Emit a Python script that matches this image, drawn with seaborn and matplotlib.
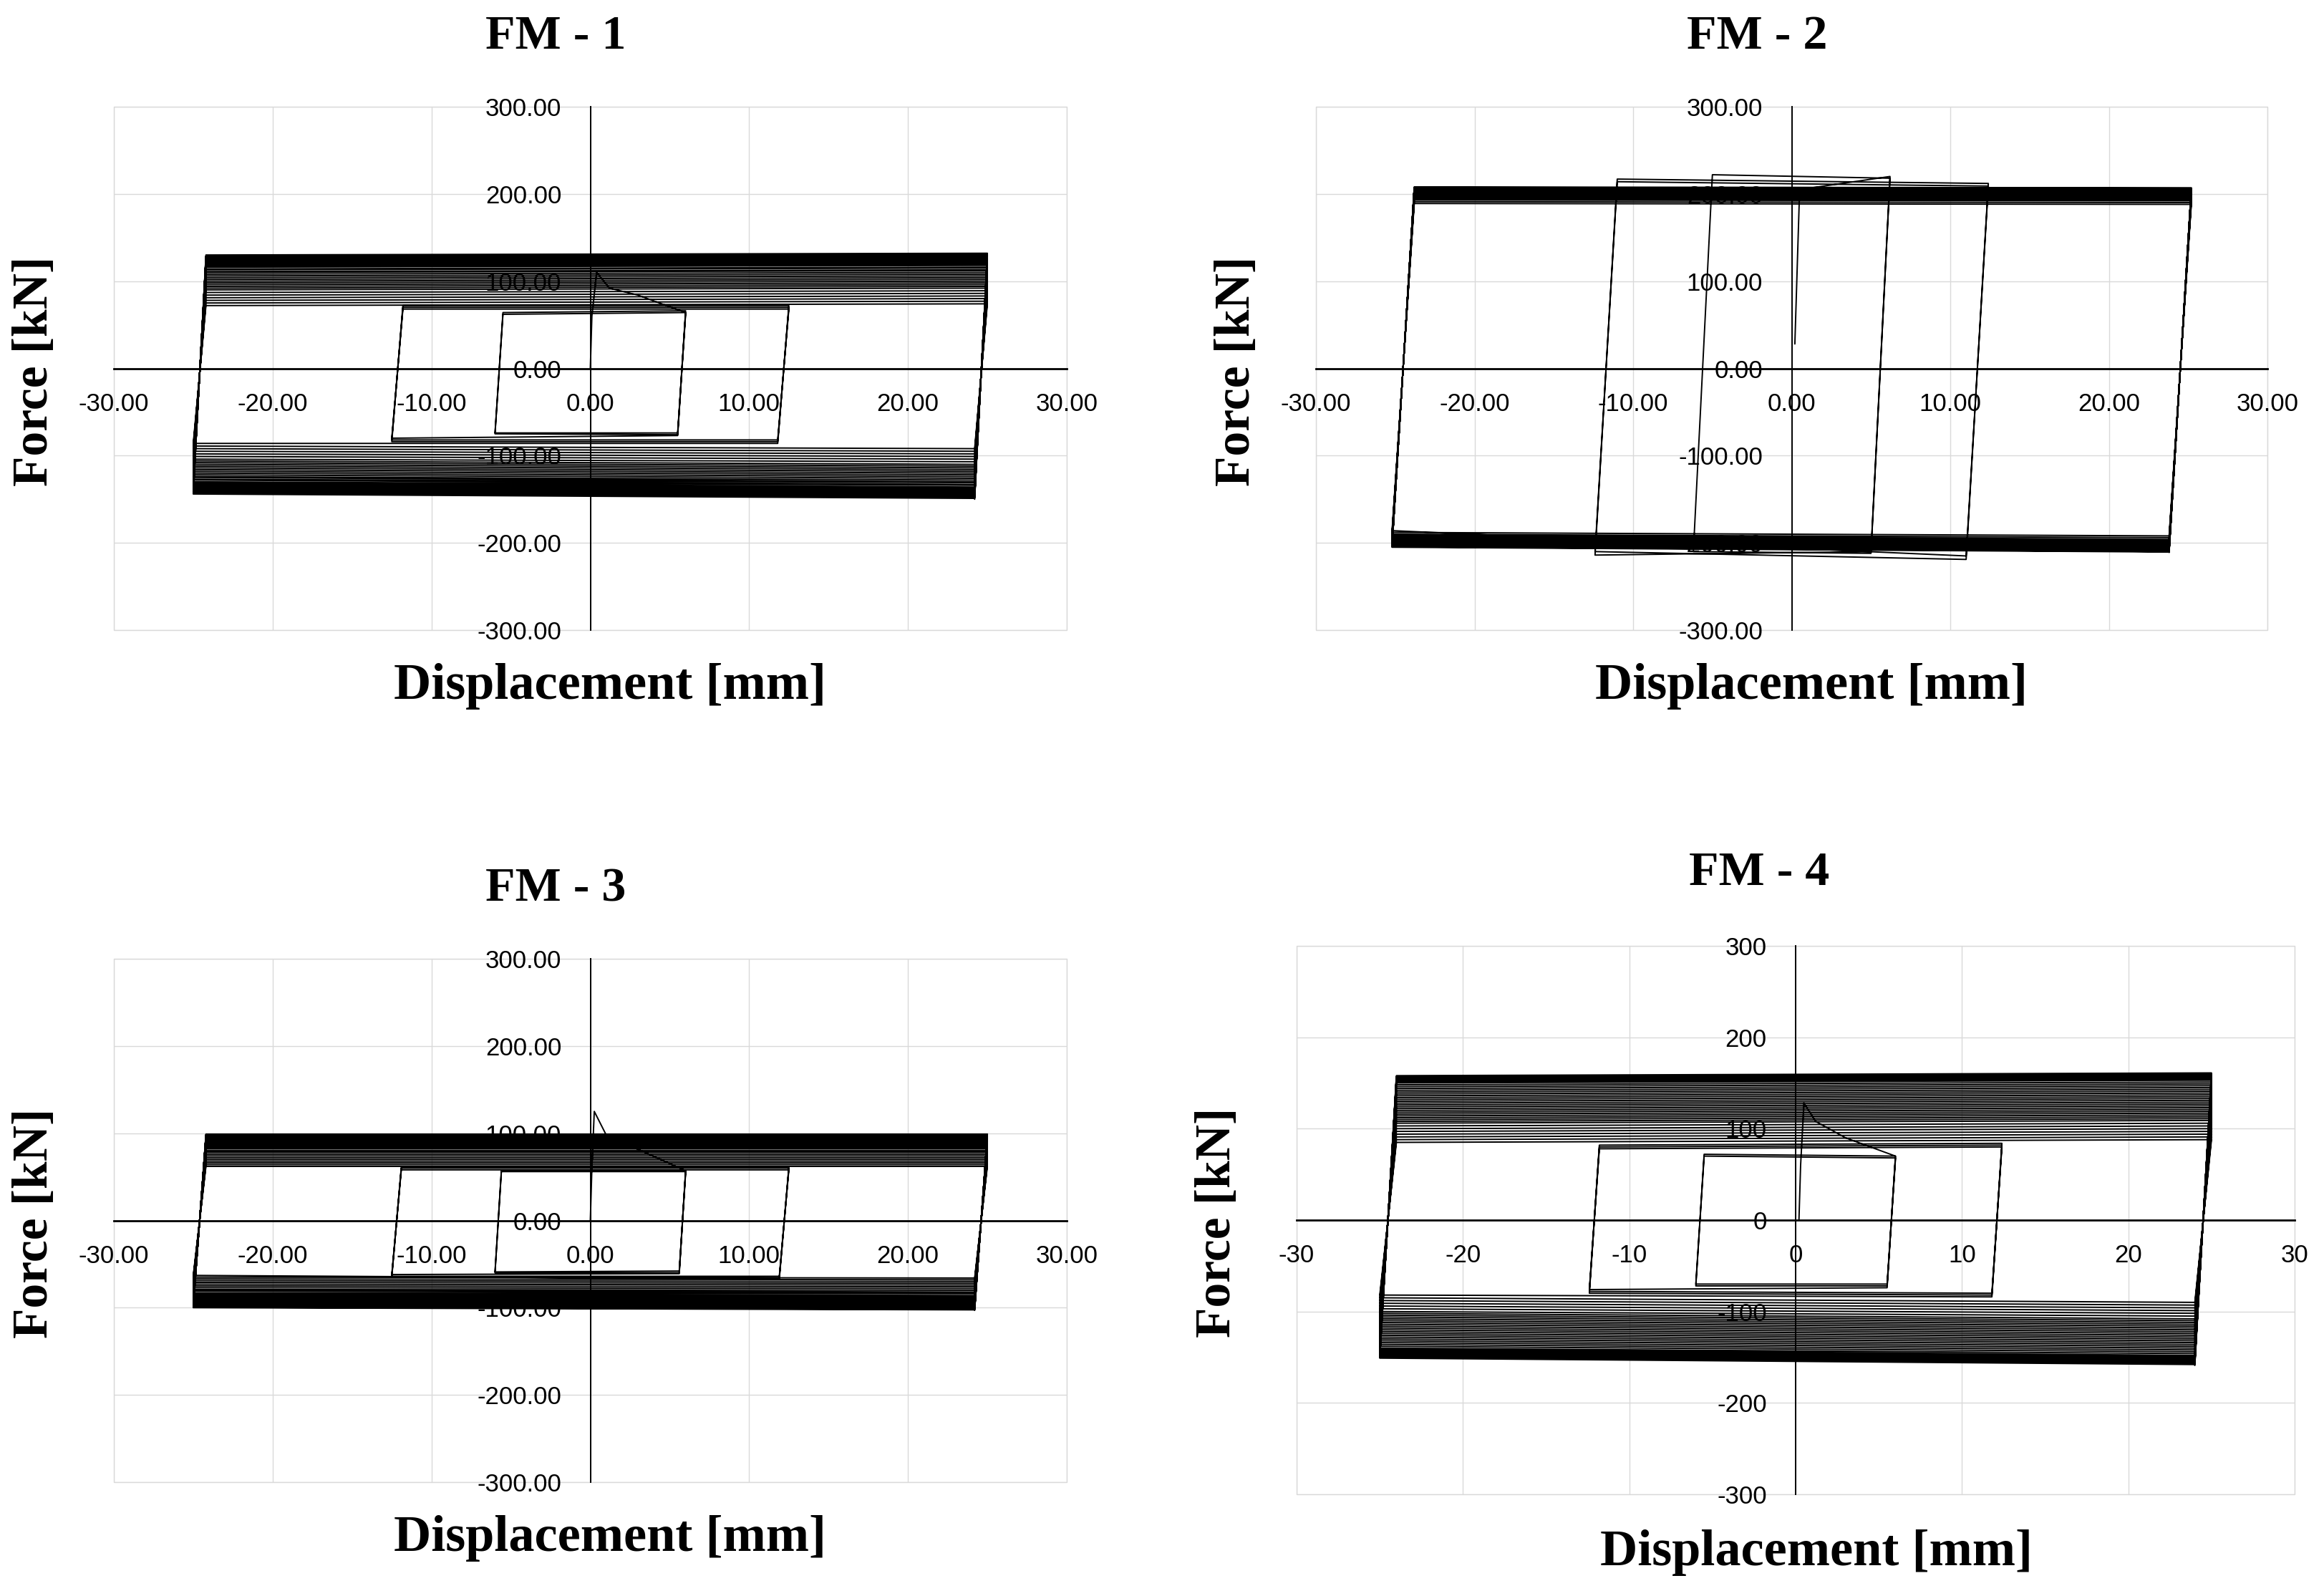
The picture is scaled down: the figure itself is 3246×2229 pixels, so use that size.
import numpy as np
import pandas as pd
import seaborn as sns
import matplotlib.pyplot as plt
from matplotlib.patches import Rectangle
from matplotlib.ticker import MultipleLocator, FormatStrFormatter


#########################
# Data (kN vs mm)
#########################

# loop groups per specimen: small, medium, large amplitude
FM1_AMP = [6.0, 12.5, 25.0]
FM1_SLIP = [0.5, 0.7, 0.8]
FM1_UP_DRIFT = [2, 0, 2]
FM1_LO_DRIFT = [-2, -2, -6]
FM1_IN_UP = [60, 62, 64]
FM1_IN_LO = [-72, -74, -75]
FM1_MID_UP = [68, 70, 72]
FM1_MID_LO = [-80, -82, -84]
FM1_OUT_UP = [72, 75, 78, 81, 84, 87, 90, 92, 94, 96, 98, 100, 102, 104, 106, 108, 110, 111,
              113, 114, 116, 117, 118, 119, 120, 121, 122, 123, 124, 125, 126, 127, 127.5, 128, 129, 130]
FM1_OUT_LO = [-86, -89, -92, -95, -98, -101, -104, -106, -108, -110, -112, -114, -116, -118, -120,
              -122, -124, -125, -127, -128, -130, -131, -132, -133, -134, -135, -136, -137, -138,
              -139, -140, -141, -141.5, -142, -143, -144]
FM1_INIT_X = [0.0, 0.1, 0.4, 1.2, 3.0, 6.0]
FM1_INIT_Y = [0, 60, 110, 92, 84, 64]

FM2_AMP = [6.2, 12.4, 25.2]
FM2_SLIP = [1.2, 1.4, 1.4]
FM2_UP_DRIFT = [-4, -5, -1]
FM2_LO_DRIFT = [0, -5, -6]
FM2_IN_UP = [224, 222]
FM2_IN_LO = [-212, -210]
FM2_MID_UP = [217, 214]
FM2_MID_LO = [-214, -210]
FM2_OUT_UP = [189, 191, 193, 194, 195, 196, 197, 198, 198.5, 199, 199.5, 200, 200.5, 201, 201.5,
              202, 202.5, 203, 203.5, 204, 204.5, 205, 205.5, 206, 206, 206.5, 207, 207, 207.5, 208]
FM2_OUT_LO = [-186, -188, -190, -191, -192, -193, -194, -195, -195.5, -196, -196.5, -197, -197.5,
              -198, -198.5, -199, -199.5, -200, -200.5, -201, -201.5, -202, -202.5, -203, -203,
              -203.5, -204, -204, -204.5, -205]
FM2_INIT_X = [0.2, 0.5]
FM2_INIT_Y = [28, 205]

FM3_AMP = [6.0, 12.5, 25.0]
FM3_SLIP = [0.4, 0.6, 0.8]
FM3_UP_DRIFT = [0, 0, 0]
FM3_LO_DRIFT = [-1, -2, -3]
FM3_IN_UP = [54, 56, 57]
FM3_IN_LO = [-57, -59, -60]
FM3_MID_UP = [58, 60, 61]
FM3_MID_LO = [-62, -64, -65]
FM3_OUT_UP = [62, 64, 66, 68, 70, 72, 74, 76, 78, 79, 80, 82, 83, 84, 85, 86, 87, 88, 89, 90, 91,
              91.5, 92, 93, 93.5, 94, 94.5, 95, 95.5, 96, 96.5, 97, 97.5, 98, 98.5, 99]
FM3_OUT_LO = [-63, -65, -67, -69, -71, -73, -75, -77, -79, -80, -81, -83, -84, -85, -86, -87, -88,
              -89, -90, -91, -92, -92.5, -93, -94, -94.5, -95, -95.5, -96, -96.5, -97, -97.5, -98,
              -98.5, -99, -99.5, -100]
FM3_INIT_X = [0.0, 0.1, 0.25, 1.0, 6.0]
FM3_INIT_Y = [0, 60, 125, 98, 57]

FM4_AMP = [6.0, 12.4, 25.0]
FM4_SLIP = [0.5, 0.6, 1.0]
FM4_UP_DRIFT = [-2, 2, 3]
FM4_LO_DRIFT = [-2, -4, -8]
FM4_IN_UP = [68, 70, 72]
FM4_IN_LO = [-68, -70, -72]
FM4_MID_UP = [78, 80, 82]
FM4_MID_LO = [-76, -78, -80]
FM4_OUT_UP = [85, 88, 91, 94, 97, 100, 103, 106, 108, 110, 112, 114, 116, 118, 120, 122, 124, 126,
              128, 130, 132, 134, 136, 138, 140, 142, 144, 146, 148, 150, 151, 152, 153, 154, 155,
              156, 157, 158]
FM4_OUT_LO = [-82, -85, -88, -91, -94, -97, -100, -102, -104, -106, -108, -110, -112, -114, -116,
              -118, -120, -122, -124, -126, -128, -130, -132, -134, -136, -138, -140, -141, -142,
              -143, -144, -145, -146, -147, -148, -149, -150, -151]
FM4_INIT_X = [0.2, 0.3, 0.5, 1.2, 3.0, 6.0]
FM4_INIT_Y = [0, 60, 128, 108, 90, 70]

TITLES = ["FM - 1", "FM - 2", "FM - 3", "FM - 4"]


#########################
# Functions
#########################

# chain the cycles: bottom-left -> top-left -> top-right -> bottom-right
def build_loops(init_x, init_y, amps, slips, up_drift, lo_drift, ups, los):
    xs, ys = [], []
    for amp, slip, dup, dlo, up_list, lo_list in zip(amps, slips, up_drift, lo_drift, ups, los):
        for up, lo in zip(up_list, lo_list):
            xs += [-amp, -amp + slip, amp, amp - slip]
            ys += [lo, up, up + dup, lo + dlo]
    # the virgin branch replaces the first half cycle
    xs = list(init_x) + xs[2:]
    ys = list(init_y) + ys[2:]
    return pd.DataFrame({'Displacement': xs, 'Force': ys, 'step': np.arange(len(xs))})


panels = [
    build_loops(FM1_INIT_X, FM1_INIT_Y, FM1_AMP, FM1_SLIP, FM1_UP_DRIFT, FM1_LO_DRIFT,
                [FM1_IN_UP, FM1_MID_UP, FM1_OUT_UP], [FM1_IN_LO, FM1_MID_LO, FM1_OUT_LO]),
    build_loops(FM2_INIT_X, FM2_INIT_Y, FM2_AMP, FM2_SLIP, FM2_UP_DRIFT, FM2_LO_DRIFT,
                [FM2_IN_UP, FM2_MID_UP, FM2_OUT_UP], [FM2_IN_LO, FM2_MID_LO, FM2_OUT_LO]),
    build_loops(FM3_INIT_X, FM3_INIT_Y, FM3_AMP, FM3_SLIP, FM3_UP_DRIFT, FM3_LO_DRIFT,
                [FM3_IN_UP, FM3_MID_UP, FM3_OUT_UP], [FM3_IN_LO, FM3_MID_LO, FM3_OUT_LO]),
    build_loops(FM4_INIT_X, FM4_INIT_Y, FM4_AMP, FM4_SLIP, FM4_UP_DRIFT, FM4_LO_DRIFT,
                [FM4_IN_UP, FM4_MID_UP, FM4_OUT_UP], [FM4_IN_LO, FM4_MID_LO, FM4_OUT_LO]),
]


#########################
# Plot
#########################

sns.set_style("white")
plt.rcParams['font.family'] = ['Liberation Serif', 'DejaVu Serif']
plt.rcParams['axes.unicode_minus'] = False
plt.rcParams['text.color'] = 'black'
plt.rcParams['xtick.color'] = 'black'
plt.rcParams['ytick.color'] = 'black'

W, H = 3246, 2229
fig = plt.figure(figsize=(W / 100, H / 100), dpi=100)

# plot areas in pixels: left, top, right, bottom
boxes = [(159, 149, 1490, 880), (1838, 149, 3167, 880),
         (159, 1339, 1490, 2070), (1811, 1321, 3205, 2087)]
fmts = ['%.2f', '%.2f', '%.2f', '%d']

for df, (l, t, r, b), title, fmt in zip(panels, boxes, TITLES, fmts):
    ax = fig.add_axes([l / W, 1 - b / H, (r - l) / W, (b - t) / H])
    ax.set_axisbelow(True)
    ax.grid(True, color='#d9d9d9', lw=1.0)
    ax.add_patch(Rectangle((0, 0), 1, 1, transform=ax.transAxes, fill=False,
                           ec='#d9d9d9', lw=1.0, clip_on=False, zorder=0.4))

    sns.lineplot(data=df, x='Displacement', y='Force', sort=False, estimator=None,
                 color='black', linewidth=1.4, ax=ax, zorder=2)

    ax.set_xlim(-30, 30)
    ax.set_ylim(-300, 300)
    ax.xaxis.set_major_locator(MultipleLocator(10))
    ax.yaxis.set_major_locator(MultipleLocator(100))
    ax.xaxis.set_major_formatter(FormatStrFormatter(fmt))
    ax.yaxis.set_major_formatter(FormatStrFormatter(fmt))

    # axes cross at the origin
    ax.spines['left'].set_position(('data', 0))
    ax.spines['bottom'].set_position(('data', 0))
    ax.spines['left'].set_linewidth(1.4)
    ax.spines['bottom'].set_linewidth(2.0)
    ax.spines['left'].set_color('black')
    ax.spines['bottom'].set_color('black')
    ax.spines['top'].set_visible(False)
    ax.spines['right'].set_visible(False)
    ax.tick_params(axis='both', length=0, labelsize=25, labelcolor='black',
                   labelfontfamily='Liberation Sans')
    ax.tick_params(axis='y', pad=29)
    ax.tick_params(axis='x', pad=24)
    ax.set_xlabel('')
    ax.set_ylabel('')

    cx = lambda px: (px - l) / (r - l)
    ax.text(0.4636, 1.133, title, transform=ax.transAxes, color='black',
            ha='center', va='center', fontsize=49, fontweight='bold')
    ax.text(0.521, -0.107, 'Displacement [mm]', transform=ax.transAxes, color='black',
            ha='center', va='center', fontsize=52, fontweight='bold')
    ax.text(cx(l - 110), 0.495, 'Force [kN]', transform=ax.transAxes, rotation=90,
            color='black', ha='center', va='center', fontsize=50, fontweight='bold')

fig.savefig('out.png', dpi=100, facecolor='white')
